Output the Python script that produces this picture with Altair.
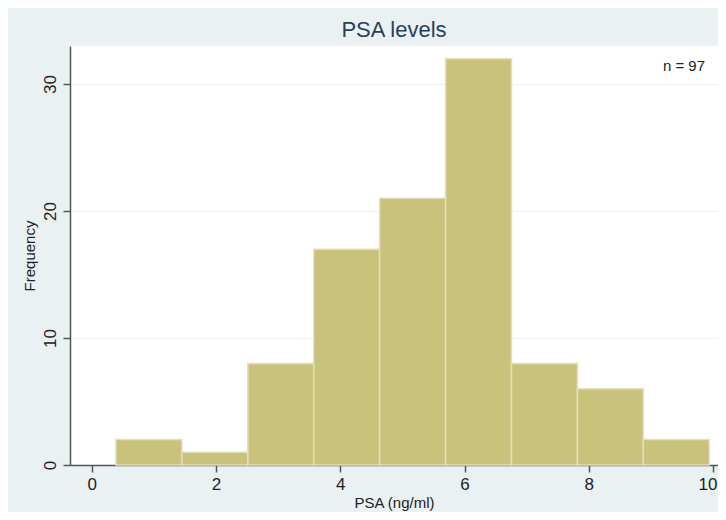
import altair as alt
import pandas as pd

bin_edges = [0.39, 1.451, 2.512, 3.573, 4.634, 5.695, 6.756, 7.817, 8.878, 9.939]
counts = [2, 1, 8, 17, 21, 32, 8, 6, 2]
x_ticks = [0, 2, 4, 6, 8, 10]
y_ticks = [0, 10, 20, 30]
note = "n = 97"

df = pd.DataFrame({
    "start": bin_edges[:-1],
    "end": bin_edges[1:],
    "count": counts,
})

FONT = "Liberation Sans"

bars = alt.Chart(df).mark_rect(
    color="#C9C27D", stroke="#E4DFB5", strokeWidth=1.5
).encode(
    x=alt.X("start:Q",
            scale=alt.Scale(domain=[-0.35, 10.08], nice=False, zero=False),
            axis=alt.Axis(values=x_ticks, title="PSA (ng/ml)", grid=False,
                          domainColor="#555555", domainWidth=1.5,
                          tickColor="#555555", tickSize=7, tickWidth=1.5,
                          labelFontSize=17, labelColor="#222222", labelPadding=4,
                          labelFlush=6, labelFlushOffset=4,
                          titleFontSize=15, titleColor="#222222", titleFontWeight="normal",
                          titlePadding=3, labelFont=FONT, titleFont=FONT)),
    x2="end:Q",
    y=alt.Y("count:Q",
            scale=alt.Scale(domain=[0, 33], nice=False),
            axis=alt.Axis(values=y_ticks, title="Frequency", grid=True,
                          gridColor="#EEF2F2", gridWidth=1,
                          domainColor="#555555", domainWidth=1.5,
                          tickColor="#555555", tickSize=7, tickWidth=1.5,
                          labelAngle=270, labelAlign="center", labelBaseline="bottom",
                          labelFontSize=17, labelColor="#222222", labelPadding=4,
                          titleFontSize=15, titleColor="#222222", titleFontWeight="normal",
                          titlePadding=4, labelFont=FONT, titleFont=FONT)),
    y2=alt.datum(0),
)

text = alt.Chart(pd.DataFrame({"t": [note]})).mark_text(
    align="right", baseline="middle", fontSize=15, font=FONT, color="#222222"
).encode(
    text="t:N",
    x=alt.value(635),
    y=alt.value(20),
)

chart = (bars + text).properties(
    width=648,
    height=419,
    title=alt.TitleParams("PSA levels", fontSize=22, font=FONT, color="#2B3E5C",
                          fontWeight="normal", anchor="middle", offset=4),
    background="#EAF1F3",
    padding={"left": 62, "top": 38, "right": 0, "bottom": 47},
    autosize=alt.AutoSizeParams(type="none"),
).configure_view(fill="white", stroke=None)

chart.save("out.html", embed_options={"renderer": "svg", "actions": False})
